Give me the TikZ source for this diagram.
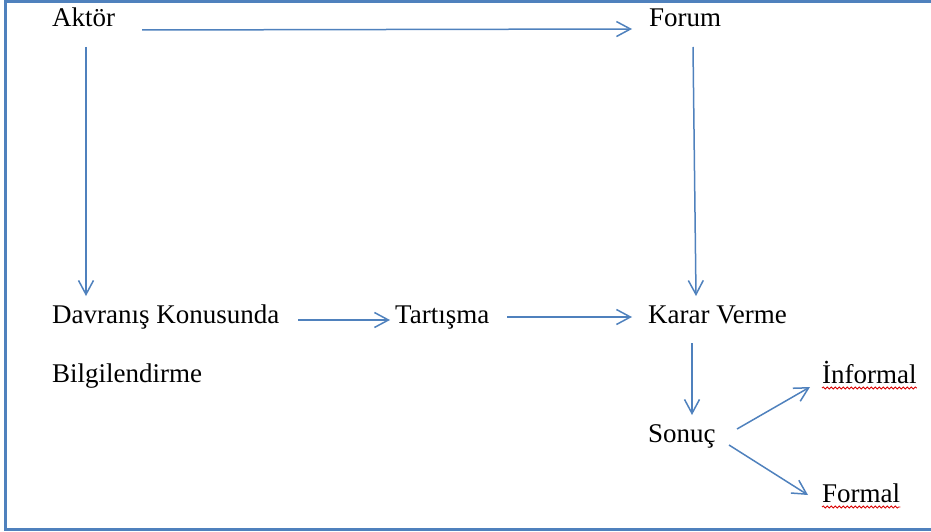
\documentclass[tikz,border=0pt]{standalone}
\usepackage{fontspec}
\setmainfont{Liberation Serif}
\usetikzlibrary{arrows.meta,decorations.pathmorphing}
\definecolor{wordblue}{HTML}{4F81BD}
\tikzset{
  lbl/.style={anchor=base west, inner sep=0pt, font=\fontsize{27}{32}\selectfont},
  arr/.style={draw=wordblue, line width=1.5pt, -{Straight Barb[length=14pt,width=15pt,line width=1.5pt]}},
  frame/.style={draw=wordblue, line width=2.6pt},
  spell/.style={draw=red!85!black, line width=0.8pt, decorate,
    decoration={snake, amplitude=1.1pt, segment length=4pt}}
}
\begin{document}
\begin{tikzpicture}[x=1pt, y=-1pt]
  \useasboundingbox (0,0) rectangle (931,532);
  % page frame (open on the right)
  \draw[frame] (935,1.5) -- (5.5,1.5) -- (5.5,529.5) -- (935,529.5);

  % labels
  \node[lbl] (aktor)    at (52,27)   {Aktör};
  \node[lbl] (forum)    at (649,27)  {Forum};
  \node[lbl] (davranis) at (52,323)  {Davranış Konusunda};
  \node[lbl] (bilgi)    at (52,382)  {Bilgilendirme};
  \node[lbl] (tartisma) at (395,323) {Tartışma};
  \node[lbl] (karar)    at (648,323) {Karar Verme};
  \node[lbl] (sonuc)    at (648,442) {Sonuç};
  \node[lbl] (informal) at (822,383) {İnformal};
  \node[lbl] (formal)   at (822,502) {Formal};

  % connectors
  \draw[arr] ([shift={(90,3)}]aktor.base west)     -- ([shift={(-17,2)}]forum.base west);
  \draw[arr] ([shift={(34,20)}]aktor.base west)    -- ([shift={(34,-27)}]davranis.base west);
  \draw[arr] ([shift={(44,20)}]forum.base west)    -- ([shift={(48,-27)}]karar.base west);
  \draw[arr] ([shift={(246,-3)}]davranis.base west) -- ([shift={(-5,-3)}]tartisma.base west);
  \draw[arr] ([shift={(112,-6)}]tartisma.base west) -- ([shift={(-16,-6)}]karar.base west);
  \draw[arr] ([shift={(44,20)}]karar.base west)    -- ([shift={(44,-27)}]sonuc.base west);
  \draw[arr] ([shift={(89,-13)}]sonuc.base west)   -- ([shift={(-12,4)}]informal.base west);
  \draw[arr] ([shift={(81,3)}]sonuc.base west)     -- ([shift={(-14,-7)}]formal.base west);

  % spelling marks under the last two words
  \draw[spell] ([shift={(0,5)}]informal.base west) -- ([shift={(0,5)}]informal.base east);
  \draw[spell] ([shift={(0,5)}]formal.base west)   -- ([shift={(0,5)}]formal.base east);
\end{tikzpicture}
\end{document}
